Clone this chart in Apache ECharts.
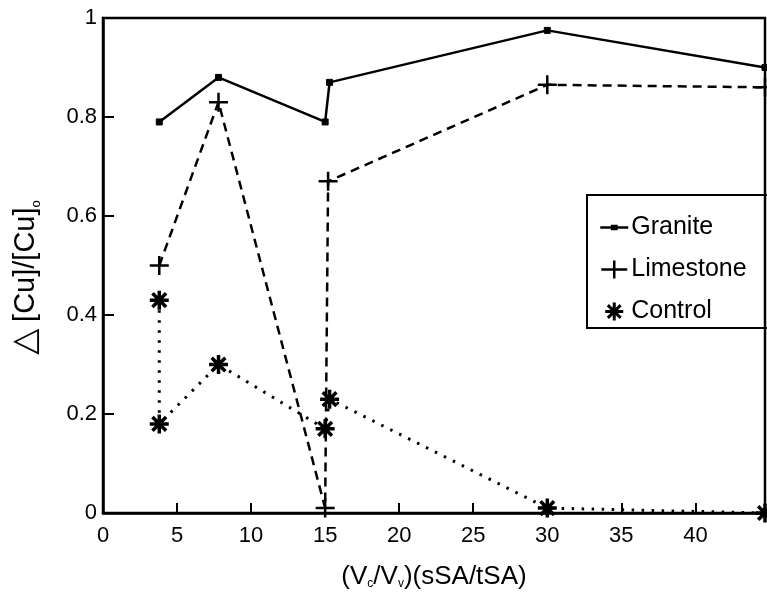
<!DOCTYPE html>
<html>
<head>
<meta charset="utf-8">
<script src="https://cdn.jsdelivr.net/npm/echarts@6/dist/echarts.min.js"></script>
<style>
  html, body { margin: 0; padding: 0; background: #fff; }
  #main { width: 767px; height: 608px; }
</style>
</head>
<body>
<div id="main"></div>
<script>
// values
const xTicks = [0, 5, 10, 15, 20, 25, 30, 35, 40]
const yTicks = [0, 0.2, 0.4, 0.6, 0.8, 1]

const graniteX = [3.8, 7.8, 15, 15.3, 30, 44.7]
const graniteY = [0.79, 0.88, 0.79, 0.87, 0.975, 0.90]

const limestoneX = [3.8, 7.8, 15, 15.2, 30, 44.7]
const limestoneY = [0.50, 0.83, 0.01, 0.67, 0.865, 0.86]

const controlX = [3.8, 3.8, 7.8, 15, 15.3, 30, 44.7]
const controlY = [0.43, 0.18, 0.30, 0.17, 0.23, 0.01, 0.0]

const FONT = 'Liberation Sans, Arial, Helvetica, sans-serif'

const plusPath = 'path://M0,-1L0,1M-1,0L1,0'
const starPath = 'path://M0,-1L0,1M-1,0L1,0M-0.72,-0.72L0.72,0.72M-0.72,0.72L0.72,-0.72'

// legend icons: short line with the marker on it, like the scan
const graniteIcon = 'path://M0,5L26,5M11,3.5h4v3h-4z'
const limestoneIcon = 'path://M0,9L26,9M13,0L13,18'
const controlIcon = 'path://M9,0L9,18M0,9L18,9M2.6,2.6L15.4,15.4M2.6,15.4L15.4,2.6'

function pairs(xs, ys) {
  return xs.map((x, i) => [x, ys[i]])
}

const chart = echarts.init(document.getElementById('main'), null, { renderer: 'canvas' })

const option = {
  backgroundColor: '#fff',
  animation: false,
  grid: {
    left: 103,
    right: 2,
    top: 18,
    bottom: 95,
    show: true,
    borderColor: '#000',
    borderWidth: 2.5,
    backgroundColor: 'transparent'
  },
  legend: {
    orient: 'vertical',
    left: 587,
    top: 195,
    borderColor: '#000',
    borderWidth: 2,
    padding: [20, 40, 4, 12],
    itemWidth: 28,
    itemHeight: 18,
    itemGap: 17,
    textStyle: { fontFamily: FONT, fontSize: 25, color: '#000', padding: [0, 0, 0, -2] },
    data: [
      { name: 'Granite', icon: graniteIcon, itemStyle: { borderColor: '#000', borderWidth: 2.5 } },
      { name: 'Limestone', icon: limestoneIcon, itemStyle: { borderColor: '#000', borderWidth: 2.5 } },
      { name: 'Control', icon: controlIcon, itemStyle: { borderColor: '#000', borderWidth: 3 } }
    ]
  },
  xAxis: {
    type: 'value',
    min: 0,
    max: 44.7,
    interval: 5,
    name: '{n|(V}{s|c}{n|/V}{s|v}{n|)(sSA/tSA)}',
    nameLocation: 'middle',
    nameGap: 51,
    nameTextStyle: {
      rich: {
        n: { fontFamily: FONT, fontSize: 26, color: '#000' },
        s: { fontFamily: FONT, fontSize: 12, color: '#000', verticalAlign: 'bottom', padding: [14, 0, 0, 0] }
      }
    },
    axisLine: { onZero: false, lineStyle: { color: '#000', width: 2.5 } },
    axisTick: { inside: true, length: 10, lineStyle: { color: '#000', width: 2 } },
    axisLabel: {
      margin: 12,
      fontFamily: FONT,
      fontSize: 22,
      color: '#000',
      customValues: xTicks
    },
    splitLine: { show: false }
  },
  yAxis: {
    type: 'value',
    min: 0,
    max: 1,
    interval: 0.2,
    name: '{t|\u25B3}  {n|[Cu]/[Cu]}{s|o}',
    nameLocation: 'middle',
    nameGap: 60,
    nameTextStyle: {
      rich: {
        t: { fontFamily: 'DejaVu Sans, ' + FONT, fontSize: 34, color: '#000' },
        n: { fontFamily: FONT, fontSize: 29, color: '#000' },
        s: { fontFamily: FONT, fontSize: 13, color: '#000', verticalAlign: 'bottom', padding: [16, 24, 0, 0] }
      }
    },
    axisLine: { onZero: false, lineStyle: { color: '#000', width: 2.5 } },
    axisTick: { inside: true, length: 11, lineStyle: { color: '#000', width: 2 } },
    axisLabel: {
      margin: 6,
      fontFamily: FONT,
      fontSize: 22,
      color: '#000',
      customValues: yTicks
    },
    splitLine: { show: false }
  },
  series: [
    {
      name: 'Granite',
      type: 'line',
      data: pairs(graniteX, graniteY),
      symbol: 'rect',
      symbolSize: 6,
      lineStyle: { color: '#000', width: 2.5 },
      itemStyle: { color: '#000', borderColor: '#000', borderWidth: 1 }
    },
    {
      name: 'Limestone',
      type: 'line',
      data: pairs(limestoneX, limestoneY),
      symbol: plusPath,
      symbolSize: 19,
      lineStyle: { color: '#000', width: 2.5, type: [9, 6] },
      itemStyle: { color: '#000', borderColor: '#000', borderWidth: 2.5 }
    },
    {
      name: 'Control',
      type: 'line',
      data: pairs(controlX, controlY),
      symbol: starPath,
      symbolSize: 19,
      lineStyle: { color: '#000', width: 3, type: [2.5, 7.5] },
      itemStyle: { color: '#000', borderColor: '#000', borderWidth: 3.5 }
    }
  ]
}

chart.setOption(option)
</script>
</body>
</html>
